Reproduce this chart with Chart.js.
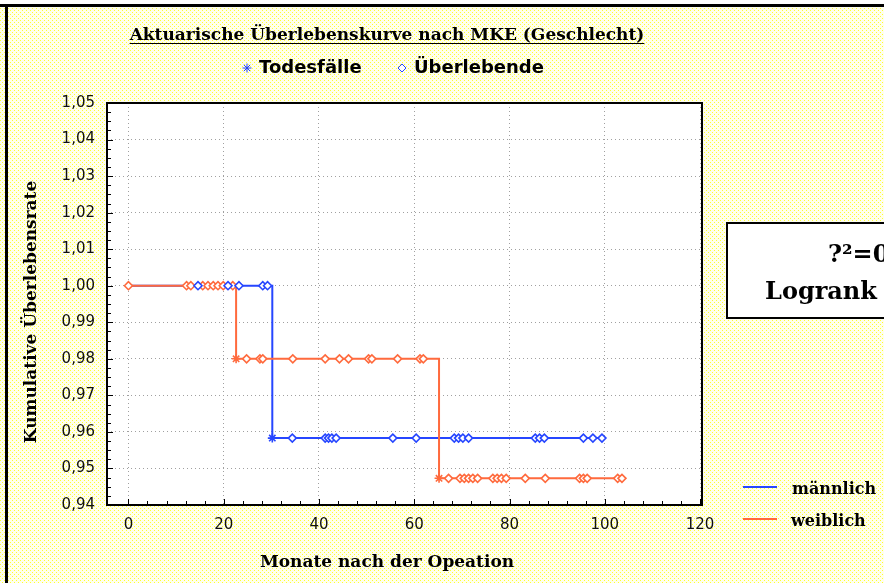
<!DOCTYPE html>
<html>
<head>
<meta charset="utf-8">
<script src="https://cdn.jsdelivr.net/npm/chart.js@4/dist/chart.umd.min.js"></script>
<style>
  html, body { margin: 0; padding: 0; background: #fff; }
  canvas { display: block; }
</style>
</head>
<body>
<canvas id="km" width="884" height="583"></canvas>
<script>
// Aktuarische Überlebenskurve (MKE) nach Geschlecht
const BLUE = '#2646ff';
const ORANGE = '#ff6a3d';

const xTickValues = [0, 20, 40, 60, 80, 100, 120];
const yTickValues = [0.94, 0.95, 0.96, 0.97, 0.98, 0.99, 1.00, 1.01, 1.02, 1.03, 1.04, 1.05];

// step curves (time in months, cumulative survival)
const maleTimes = [0, 30.2, 99.4];
const maleSurv = [1.0, 0.9583, 0.9583];
const femaleTimes = [0, 22.6, 65.2, 103.6];
const femaleSurv = [1.0, 0.98, 0.9473, 0.9473];

// deaths (Todesfälle)
const maleDeaths = [30.2];
const femaleDeaths = [22.6, 65.2];

// censored (Überlebende)
const maleCensored = [14.6, 20.9, 23.2, 28.2, 29.2,
  34.4, 41.3, 42.0, 42.7, 43.6, 55.5, 60.4, 68.4, 69.3, 70.2, 71.4,
  85.4, 86.3, 87.3, 95.5, 97.5, 99.4];
const femaleCensored = [0, 12.2, 13.1, 15.6, 16.7, 17.8, 18.8, 19.9, 21.9,
  24.8, 27.6, 28.2, 34.5, 41.3, 44.3, 46.2, 50.4, 51.1, 56.5, 61.2, 61.9,
  67.2, 69.6, 70.5, 71.4, 72.3, 73.3, 76.5, 77.4, 78.3, 79.3, 83.3, 87.5,
  94.7, 95.5, 96.3, 102.7, 103.6];

// survival level of a step curve at time t
function survAt(times, surv, t) {
  let s = surv[0];
  times.forEach((tt, i) => { if (tt <= t + 1e-9) s = surv[i]; });
  return s;
}
const curve = (times, surv) => times.map((t, i) => ({ x: t, y: surv[i] }));
const onCurve = (list, times, surv) => list.map(t => ({ x: t, y: survAt(times, surv, t) }));

// background dot pattern
function makePattern(ctx) {
  const c = document.createElement('canvas');
  c.width = 4; c.height = 4;
  const p = c.getContext('2d');
  p.fillStyle = '#ffffec';
  p.fillRect(0, 0, 4, 4);
  p.fillStyle = '#ffff33';
  p.fillRect(0, 0, 1, 1);
  p.fillRect(2, 2, 1, 1);
  return ctx.createPattern(c, 'repeat');
}

const SERIF = '"DejaVu Serif", "Liberation Serif", serif';
const SANS = '"DejaVu Sans", "Liberation Sans", sans-serif';

const decor = {
  id: 'decor',
  beforeDraw(chart) {
    const { ctx, chartArea: a, width, height } = chart;
    ctx.save();
    ctx.fillStyle = makePattern(ctx);
    ctx.fillRect(0, 0, width, height);
    ctx.fillStyle = '#fff';
    ctx.fillRect(0, 0, width, 4);
    ctx.fillStyle = '#000';
    ctx.fillRect(0, 4, width, 3);
    ctx.fillRect(5, 4, 3, height - 4);
    ctx.fillStyle = '#fff';
    ctx.fillRect(a.left, a.top, a.right - a.left, a.bottom - a.top);
    ctx.restore();
  },
  afterDraw(chart) {
    const { ctx, chartArea: a, scales } = chart;
    ctx.save();

    // plot frame
    ctx.strokeStyle = '#000';
    ctx.lineWidth = 2;
    ctx.strokeRect(a.left, a.top, a.right - a.left, a.bottom - a.top);

    // inner tick marks
    ctx.lineWidth = 1;
    ctx.beginPath();
    for (let v = 0; v <= 120; v += 4) {
      const px = Math.round(scales.x.getPixelForValue(v)) + 0.5;
      const len = v % 20 === 0 ? 6 : 4;
      ctx.moveTo(px, a.bottom);
      ctx.lineTo(px, a.bottom - len);
    }
    for (let k = 0; k <= 44; k++) {
      const v = 0.94 + k * 0.0025;
      const py = Math.round(scales.y.getPixelForValue(v)) + 0.5;
      const len = k % 4 === 0 ? 6 : 4;
      ctx.moveTo(a.left, py);
      ctx.lineTo(a.left + len, py);
    }
    ctx.stroke();

    ctx.fillStyle = '#000';
    ctx.textBaseline = 'alphabetic';

    // title, underlined
    ctx.font = 'bold 17px ' + SERIF;
    ctx.textAlign = 'center';
    const title = 'Aktuarische Überlebenskurve nach MKE (Geschlecht)';
    ctx.fillText(title, 387, 40);
    const tw = ctx.measureText(title).width;
    ctx.fillRect(387 - tw / 2, 43, tw, 1);

    // marker legend
    ctx.strokeStyle = BLUE;
    ctx.fillStyle = '#fff';
    Chart.helpers.drawPoint(ctx, { pointStyle: 'star', radius: 4.5, borderWidth: 1.5 }, 247, 68);
    Chart.helpers.drawPoint(ctx, { pointStyle: 'rectRot', radius: 4, borderWidth: 1.5 }, 402, 68);
    ctx.fillStyle = '#000';
    ctx.font = 'bold 18px ' + SANS;
    ctx.textAlign = 'left';
    ctx.textBaseline = 'middle';
    ctx.fillText('Todesfälle', 259, 68);
    ctx.fillText('Überlebende', 414, 68);

    // axis titles
    ctx.font = 'bold 17px ' + SERIF;
    ctx.textAlign = 'center';
    ctx.textBaseline = 'middle';
    ctx.fillText('Monate nach der Opeation', 387, 563);
    ctx.save();
    ctx.translate(32, 312);
    ctx.rotate(-Math.PI / 2);
    ctx.fillText('Kumulative Überlebensrate', 0, 0);
    ctx.restore();

    // test box
    ctx.fillStyle = '#fff';
    ctx.fillRect(727, 223, 170, 95);
    ctx.strokeStyle = '#000';
    ctx.lineWidth = 2;
    ctx.strokeRect(727, 223, 170, 95);
    ctx.fillStyle = '#000';
    ctx.font = 'bold 24px ' + SERIF;
    ctx.textAlign = 'left';
    ctx.textBaseline = 'alphabetic';
    ctx.fillText('?²=0', 828, 262);
    ctx.fillText('Logrank', 765, 299);

    // group legend
    ctx.lineWidth = 2;
    ctx.strokeStyle = BLUE;
    ctx.beginPath(); ctx.moveTo(743, 487); ctx.lineTo(777, 487); ctx.stroke();
    ctx.strokeStyle = ORANGE;
    ctx.beginPath(); ctx.moveTo(743, 519); ctx.lineTo(777, 519); ctx.stroke();
    ctx.font = 'bold 16px ' + SERIF;
    ctx.fillText('männlich', 792, 494);
    ctx.fillText('weiblich', 791, 526);

    ctx.restore();
  }
};

const markerBase = {
  showLine: false,
  pointRadius: 4,
  pointBorderWidth: 1.6,
  pointBackgroundColor: '#fff',
  order: 0,
};

new Chart(document.getElementById('km'), {
  type: 'line',
  data: {
    datasets: [
      {
        label: 'männlich',
        data: curve(maleTimes, maleSurv),
        borderColor: BLUE, borderWidth: 2, stepped: true, pointRadius: 0, order: 2,
      },
      {
        label: 'weiblich',
        data: curve(femaleTimes, femaleSurv),
        borderColor: ORANGE, borderWidth: 2, stepped: true, pointRadius: 0, order: 1,
      },
      { ...markerBase, label: 'Überlebende m', data: onCurve(maleCensored, maleTimes, maleSurv),
        borderColor: BLUE, pointStyle: 'rectRot' },
      { ...markerBase, label: 'Überlebende w', data: onCurve(femaleCensored, femaleTimes, femaleSurv),
        borderColor: ORANGE, pointStyle: 'rectRot' },
      { ...markerBase, label: 'Todesfälle m', data: onCurve(maleDeaths, maleTimes, maleSurv),
        borderColor: BLUE, pointStyle: 'star', pointRadius: 4.5 },
      { ...markerBase, label: 'Todesfälle w', data: onCurve(femaleDeaths, femaleTimes, femaleSurv),
        borderColor: ORANGE, pointStyle: 'star', pointRadius: 4.5 },
    ],
  },
  options: {
    responsive: false,
    animation: false,
    events: [],
    layout: { padding: { left: 0, top: 103, right: 182, bottom: 0 } },
    plugins: { legend: { display: false }, tooltip: { enabled: false }, title: { display: false } },
    scales: {
      x: {
        type: 'linear',
        min: -4.5,
        max: 120.4,
        afterBuildTicks: s => { s.ticks = xTickValues.map(value => ({ value })); },
        afterFit: s => { s.height = 78; },
        grid: { color: '#a0a0a0', drawTicks: false },
        border: { display: false, dash: [1, 3] },
        ticks: {
          color: '#111', padding: 11, maxRotation: 0, autoSkip: false,
          font: { family: SANS, size: 15 },
        },
      },
      y: {
        type: 'linear',
        min: 0.94,
        max: 1.05,
        afterBuildTicks: s => { s.ticks = yTickValues.map(value => ({ value })); },
        afterFit: s => { s.width = 107; },
        grid: { color: '#a0a0a0', drawTicks: false },
        border: { display: false, dash: [1, 3] },
        ticks: {
          color: '#111', padding: 12, autoSkip: false,
          font: { family: SANS, size: 15 },
          callback: v => v.toFixed(2).replace('.', ','),
        },
      },
    },
  },
  plugins: [decor],
});
</script>
</body>
</html>
